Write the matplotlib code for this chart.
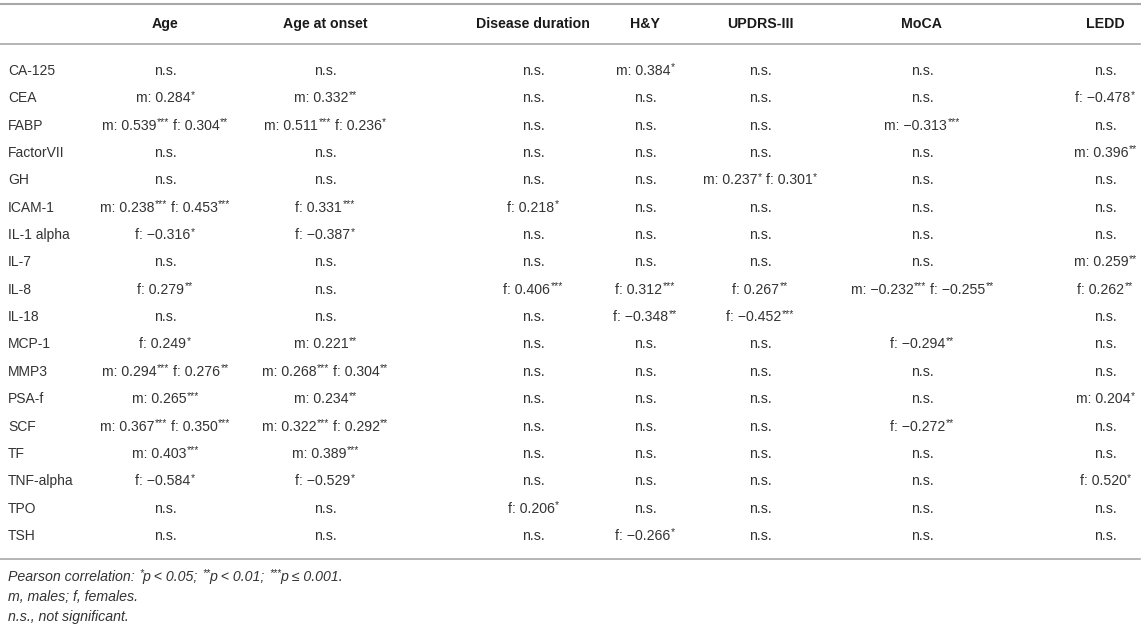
import re
import matplotlib
matplotlib.use("Agg")
import matplotlib.pyplot as plt

plt.rcParams['font.family'] = ['Liberation Sans', 'DejaVu Sans']

columns = ["Age", "Age at onset", "Disease duration", "H&Y", "UPDRS-III", "MoCA", "LEDD"]

markers = ["CA-125", "CEA", "FABP", "FactorVII", "GH", "ICAM-1", "IL-1 alpha", "IL-7",
           "IL-8", "IL-18", "MCP-1", "MMP3", "PSA-f", "SCF", "TF", "TNF-alpha", "TPO", "TSH"]

age = ["n.s.", "m: 0.284*", "m: 0.539*** f: 0.304**", "n.s.", "n.s.", "m: 0.238*** f: 0.453***",
       "f: −0.316*", "n.s.", "f: 0.279**", "n.s.", "f: 0.249*", "m: 0.294*** f: 0.276**",
       "m: 0.265***", "m: 0.367*** f: 0.350***", "m: 0.403***", "f: −0.584*", "n.s.", "n.s."]
age_onset = ["n.s.", "m: 0.332**", "m: 0.511*** f: 0.236*", "n.s.", "n.s.", "f: 0.331***",
             "f: −0.387*", "n.s.", "n.s.", "n.s.", "m: 0.221**", "m: 0.268*** f: 0.304**",
             "m: 0.234**", "m: 0.322*** f: 0.292**", "m: 0.389***", "f: −0.529*", "n.s.", "n.s."]
disease_duration = ["n.s.", "n.s.", "n.s.", "n.s.", "n.s.", "f: 0.218*", "n.s.", "n.s.",
                    "f: 0.406***", "n.s.", "n.s.", "n.s.", "n.s.", "n.s.", "n.s.", "n.s.",
                    "f: 0.206*", "n.s."]
hy = ["m: 0.384*", "n.s.", "n.s.", "n.s.", "n.s.", "n.s.", "n.s.", "n.s.", "f: 0.312***",
      "f: −0.348**", "n.s.", "n.s.", "n.s.", "n.s.", "n.s.", "n.s.", "n.s.", "f: −0.266*"]
updrs = ["n.s.", "n.s.", "n.s.", "n.s.", "m: 0.237* f: 0.301*", "n.s.", "n.s.", "n.s.",
         "f: 0.267**", "f: −0.452***", "n.s.", "n.s.", "n.s.", "n.s.", "n.s.", "n.s.", "n.s.", "n.s."]
moca = ["n.s.", "n.s.", "m: −0.313***", "n.s.", "n.s.", "n.s.", "n.s.", "n.s.",
        "m: −0.232*** f: −0.255**", "", "f: −0.294**", "n.s.", "n.s.", "f: −0.272**",
        "n.s.", "n.s.", "n.s.", "n.s."]
ledd = ["n.s.", "f: −0.478*", "n.s.", "m: 0.396**", "n.s.", "n.s.", "n.s.", "m: 0.259**",
        "f: 0.262**", "n.s.", "n.s.", "n.s.", "m: 0.204*", "n.s.", "n.s.", "f: 0.520*", "n.s.", "n.s."]

table_cols = [age, age_onset, disease_duration, hy, updrs, moca, ledd]

footnotes = [
    "Pearson correlation: *p < 0.05; **p < 0.01; ***p ≤ 0.001.",
    "m, males; f, females.",
    "n.s., not significant.",
]

# layout (pixel coordinates)
W, H = 1145, 631
col_x = [165, 325, 533, 645, 760, 922, 1105]
row_y0, row_step = 70, 27.35
text_color = "#333333"
line_color = "#a8a8a8"
body_size = 10.2
sup_size = 7.5

fig = plt.figure(figsize=(W / 100, H / 100), dpi=100)
ax = fig.add_axes([0, 0, 1, 1])
ax.set_xlim(0, W)
ax.set_ylim(H, 0)
ax.axis("off")
renderer = fig.canvas.get_renderer()


def text_width(s, size, style):
    t = ax.text(0, 0, s, fontsize=size, style=style)
    w = t.get_window_extent(renderer).width
    t.remove()
    return w


def draw_rich(x, y, s, ha="center", style="normal"):
    # split into (text, is_superscript, space_before, space_after); stars become superscripts
    pieces = []
    for m in re.finditer(r'\*+|[^*]+', s):
        chunk = m.group(0)
        if chunk.startswith('*'):
            pieces.append((chunk, True, False, False))
        else:
            pieces.append((chunk.strip(), False, chunk.startswith(' '), chunk.endswith(' ')))
    space = text_width("n n", body_size, style) - text_width("nn", body_size, style)
    widths = []
    for txt, sup, sb, sa in pieces:
        w = text_width(txt, sup_size if sup else body_size, style) if txt else 0
        widths.append(w + (space if sb else 0) + (space if sa else 0))
    total = sum(widths)
    cur = x - total / 2 if ha == "center" else x
    base = y + 5
    for (txt, sup, sb, sa), w in zip(pieces, widths):
        start = cur + (space if sb else 0)
        if sup:
            ax.text(start + 0.5, base - 4.5, txt, fontsize=sup_size, style=style,
                    color=text_color, va="baseline", ha="left")
        else:
            ax.text(start, base, txt, fontsize=body_size, style=style,
                    color=text_color, va="baseline", ha="left")
        cur += w


# rules
ax.plot([0, 1140], [4, 4], color=line_color, lw=1.5)
ax.plot([0, 1140], [44, 44], color=line_color, lw=1.2)
ax.plot([0, 1140], [559, 559], color=line_color, lw=1.2)

# header
for x, name in zip(col_x, columns):
    ax.text(x, 24, name, ha="center", va="center", fontsize=10.2,
            fontweight="bold", color="#1a1a1a")

# body
for i, label in enumerate(markers):
    y = row_y0 + i * row_step
    ax.text(8, y + 5, label, ha="left", va="baseline", fontsize=10, color=text_color)
    for x, col in zip(col_x, table_cols):
        if col[i]:
            draw_rich(x, y, col[i])

# footnotes
for k, note in enumerate(footnotes):
    draw_rich(8, 576 + k * 20, note, ha="left", style="italic")

fig.savefig("out.png", dpi=100)
